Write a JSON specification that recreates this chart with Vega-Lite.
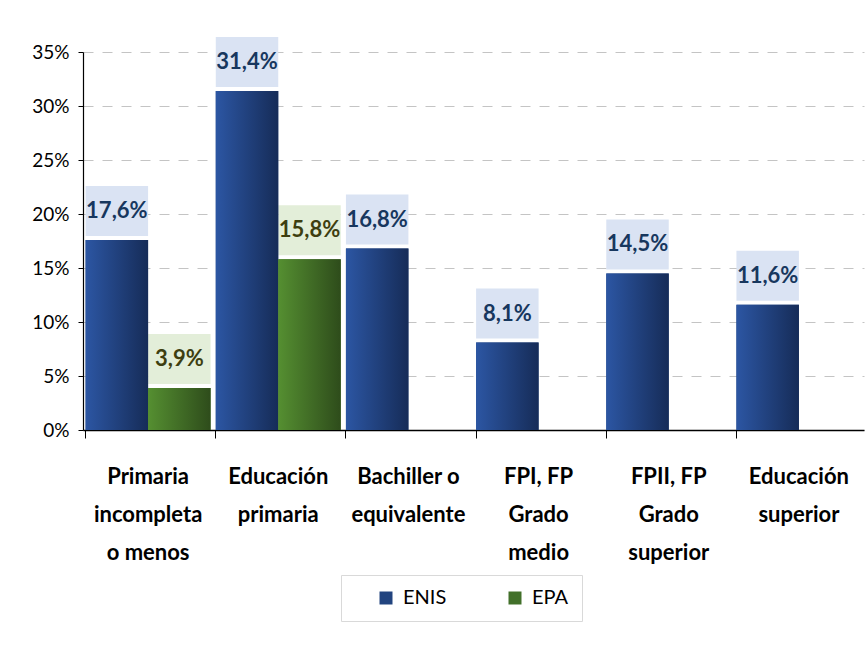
{
  "$schema": "https://vega.github.io/schema/vega-lite/v6.json",
  "width": 781,
  "height": 378,
  "autosize": {"type": "none"},
  "padding": {"left": 83, "top": 52, "right": 1, "bottom": 215},
  "background": "white",
  "config": {
    "locale": {"number": {"decimal": ",", "thousands": ".", "grouping": [3], "currency": ["", " €"]}},
    "font": "Lato",
    "view": {"stroke": null},
    "axis": {"titleFont": "Lato", "labelFont": "Lato"},
    "legend": {"labelFont": "Lato"},
    "text": {"font": "Lato"}
  },
  "data": {
    "values": [
      {"nivel": "Primaria incompleta o menos", "serie": "ENIS", "valor": 0.176},
      {"nivel": "Primaria incompleta o menos", "serie": "EPA", "valor": 0.039},
      {"nivel": "Educación primaria", "serie": "ENIS", "valor": 0.314},
      {"nivel": "Educación primaria", "serie": "EPA", "valor": 0.158},
      {"nivel": "Bachiller o equivalente", "serie": "ENIS", "valor": 0.168},
      {"nivel": "FPI, FP Grado medio", "serie": "ENIS", "valor": 0.081},
      {"nivel": "FPII, FP Grado superior", "serie": "ENIS", "valor": 0.145},
      {"nivel": "Educación superior", "serie": "ENIS", "valor": 0.116}
    ]
  },
  "encoding": {
    "x": {
      "field": "nivel",
      "type": "nominal",
      "sort": ["Primaria incompleta o menos", "Educación primaria", "Bachiller o equivalente", "FPI, FP Grado medio", "FPII, FP Grado superior", "Educación superior"],
      "scale": {"paddingInner": 0.04, "paddingOuter": 0.02},
      "axis": {
        "title": null,
        "labelAngle": 0,
        "labelFontSize": 22,
        "labelFontWeight": "bold",
        "labelColor": "#000000",
        "labelLineHeight": 38,
        "labelPadding": 28,
        "labelLimit": 200,
        "labelExpr": "{'Primaria incompleta o menos': ['Primaria', 'incompleta', 'o menos'], 'Educación primaria': ['Educación', 'primaria'], 'Bachiller o equivalente': ['Bachiller o', 'equivalente'], 'FPI, FP Grado medio': ['FPI, FP', 'Grado', 'medio'], 'FPII, FP Grado superior': ['FPII, FP', 'Grado', 'superior'], 'Educación superior': ['Educación', 'superior']}[datum.value]",
        "bandPosition": 0,
        "tickSize": 8,
        "tickColor": "#000000",
        "domainColor": "#000000",
        "domainWidth": 1.5,
        "grid": false
      }
    },
    "xOffset": {"field": "serie", "type": "nominal", "sort": ["ENIS", "EPA"], "scale": {"domain": ["ENIS", "EPA"], "paddingInner": 0, "paddingOuter": 0}},
    "y": {
      "field": "valor",
      "type": "quantitative",
      "scale": {"domain": [0, 0.35], "nice": false},
      "axis": {
        "title": null,
        "values": [0, 0.05, 0.1, 0.15, 0.2, 0.25, 0.3, 0.35],
        "format": ".0%",
        "labelFontSize": 19,
        "labelColor": "#000000",
        "labelPadding": 9,
        "tickSize": 5,
        "tickColor": "#000000",
        "domainColor": "#000000",
        "domainWidth": 1.2,
        "grid": true,
        "gridColor": "#c4c4c4",
        "gridDash": [10, 9],
        "gridWidth": 1
      }
    }
  },
  "layer": [
    {
      "mark": {"type": "bar", "yOffset": -4, "y2Offset": -54},
      "encoding": {
        "y2": {"field": "valor"},
        "color": {"condition": {"test": "datum.serie === 'EPA'", "value": "#e3eed9"}, "value": "#dae3f3"}
      }
    },
    {
      "mark": {"type": "bar"},
      "encoding": {
        "color": {
          "field": "serie",
          "type": "nominal",
          "scale": {"domain": ["ENIS", "EPA"], "range": ["#22447f", "#42702a"]},
          "legend": {
            "title": null,
            "orient": "none",
            "legendX": 258,
            "legendY": 523,
            "direction": "horizontal",
            "symbolType": "square",
            "symbolSize": 169,
            "symbolStrokeWidth": 0,
            "symbolOffset": 22,
            "labelFontSize": 20,
            "labelColor": "#000000",
            "labelOffset": 7,
            "columnPadding": 36,
            "padding": 13,
            "strokeColor": "#d9d9d9",
            "fillColor": "#ffffff",
            "encode": {
              "symbols": {
                "update": {
                  "fill": {"signal": "datum.value === 'EPA' ? {gradient: 'linear', x1: 0, y1: 0, x2: 1, y2: 0, stops: [{offset: 0, color: '#558f31'}, {offset: 1, color: '#2e4c1b'}]} : {gradient: 'linear', x1: 0, y1: 0, x2: 1, y2: 0, stops: [{offset: 0, color: '#2c56a3'}, {offset: 1, color: '#162c58'}]}"}
                }
              }
            }
          }
        }
      }
    },
    {
      "transform": [{"filter": "datum.serie === 'ENIS'"}],
      "mark": {"type": "bar", "color": {"gradient": "linear", "x1": 0, "y1": 0, "x2": 1, "y2": 0, "stops": [{"offset": 0, "color": "#2c56a3"}, {"offset": 1, "color": "#162c58"}]}},
      "encoding": {}
    },
    {
      "transform": [{"filter": "datum.serie === 'EPA'"}],
      "mark": {"type": "bar", "color": {"gradient": "linear", "x1": 0, "y1": 0, "x2": 1, "y2": 0, "stops": [{"offset": 0, "color": "#558f31"}, {"offset": 1, "color": "#2e4c1b"}]}},
      "encoding": {}
    },
    {
      "mark": {"type": "text", "dy": -29, "baseline": "middle", "align": "center", "fontSize": 22, "fontWeight": "bold", "font": "Lato"},
      "encoding": {
        "text": {"field": "valor", "type": "quantitative", "format": ".1%"},
        "color": {"condition": {"test": "datum.serie === 'EPA'", "value": "#3e3e10"}, "value": "#17375e"}
      }
    }
  ]
}
